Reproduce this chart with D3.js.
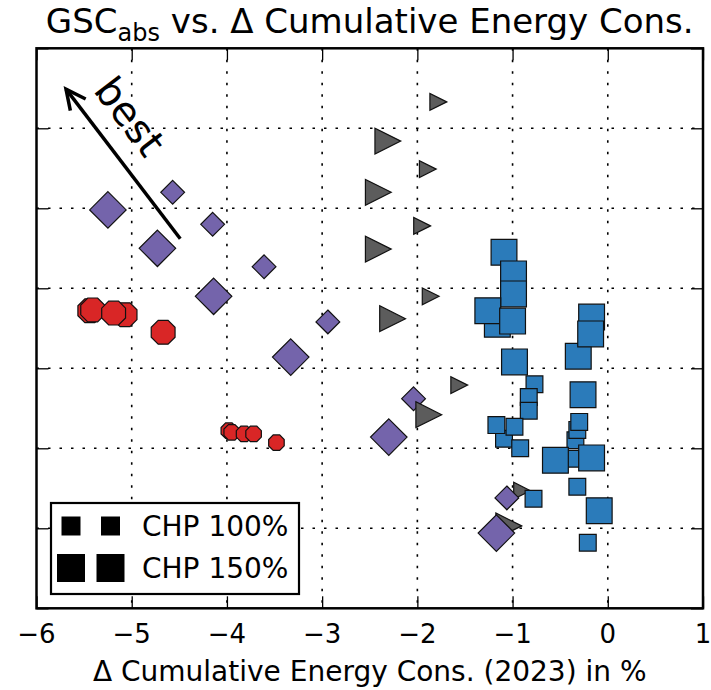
<!DOCTYPE html>
<html>
<head>
<meta charset="utf-8">
<script src="https://cdn.jsdelivr.net/npm/d3@7"></script>
<style>
  body { margin: 0; background: #fff; }
  svg { display: block; font-family: "DejaVu Sans", sans-serif; }
</style>
</head>
<body>
<div id="chart"></div>
<script>
// Axis ticks
const xTicks = [-6, -5, -4, -3, -2, -1, 0, 1];
const yTicks = [0, 1, 2, 3, 4, 5, 6, 7];

// Series: [deltaEnergy, gsc] — small = CHP 100%, large = CHP 150%
const redSmall = [[-3.98, 2.22], [-3.95, 2.20], [-3.82, 2.18], [-3.72, 2.18], [-3.48, 2.07]];
const redLarge = [[-5.07, 3.67], [-5.44, 3.72], [-5.41, 3.73], [-5.19, 3.69], [-4.67, 3.45]];
const graySmall = [[-1.78, 6.33], [-1.89, 5.49], [-1.95, 4.78], [-1.86, 3.90], [-1.56, 2.79], [-0.90, 1.47]];
const grayLarge = [[-2.31, 5.84], [-2.41, 5.20], [-2.41, 4.49], [-2.26, 3.62], [-1.88, 2.42], [-1.04, 1.03]];
const purpleSmall = [[-4.57, 5.20], [-4.15, 4.80], [-3.61, 4.27], [-2.94, 3.58], [-2.04, 2.62], [-1.06, 1.38]];
const purpleLarge = [[-5.25, 4.98], [-4.73, 4.50], [-4.14, 3.90], [-3.33, 3.14], [-2.30, 2.14], [-1.17, 0.94]];
const blueSmall = [[-0.77, 2.80], [-0.83, 2.64], [-0.83, 2.47], [-1.09, 2.12], [-1.17, 2.29], [-0.98, 2.27],
  [-0.92, 2.00], [-0.34, 1.87], [-0.34, 2.10], [-0.32, 2.23], [-0.30, 2.33], [-0.32, 1.52], [-0.78, 1.37], [-0.21, 0.82]];
const blueLarge = [[-0.31, 3.15], [-0.17, 3.64], [-0.18, 3.43], [-0.26, 2.67], [-1.09, 4.45], [-0.99, 4.18],
  [-0.99, 3.93], [-1.16, 3.55], [-1.26, 3.72], [-1.00, 3.59], [-0.98, 3.08], [-0.55, 1.85], [-0.17, 1.88], [-0.09, 1.22]];

// "best" annotation (data coords)
const arrowFrom = [-4.49, 4.62];
const arrowTo = [-5.69, 6.49];
const bestLabelAt = [-5.02, 6.15];

const legendLabels = ['CHP 100%', 'CHP 150%'];

const width = 711, height = 690;
const plot = { left: 36.5, right: 703, top: 48.3, bottom: 608.3 };
const sizeSmall = 18, sizeLarge = 27;

const x = d3.scaleLinear().domain([-6, 1]).range([plot.left, plot.right]);
const y = d3.scaleLinear().domain([0, 7]).range([plot.bottom, plot.top]);

const svg = d3.select('#chart').append('svg')
    .attr('width', width)
    .attr('height', height);

// Marker shapes, s = full marker size
const shapes = {
    square: s => `M${-s/2},${-s/2}H${s/2}V${s/2}H${-s/2}Z`,
    diamond: s => { const r = s * 0.7071; return `M0,${-r}L${r},0L0,${r}L${-r},0Z`; },
    triangle: s => `M${s/2},0L${-s/2},${-s/2}L${-s/2},${s/2}Z`,
    octagon: s => {
        const r = s / 2;
        const pts = d3.range(8).map(i => {
            const a = (22.5 + 45 * i) * Math.PI / 180;
            return [r * Math.cos(a), r * Math.sin(a)];
        });
        return 'M' + pts.map(p => p.join(',')).join('L') + 'Z';
    }
};

// Grid
const grid = svg.append('g')
    .attr('stroke', '#000')
    .attr('stroke-width', 1.6)
    .attr('stroke-dasharray', '2.5,9');
grid.selectAll('.vx').data(xTicks.slice(1, -1)).join('line')
    .attr('x1', d => x(d)).attr('x2', d => x(d))
    .attr('y1', plot.top).attr('y2', plot.bottom);
grid.selectAll('.hy').data(yTicks.slice(1, -1)).join('line')
    .attr('y1', d => y(d)).attr('y2', d => y(d))
    .attr('x1', plot.left).attr('x2', plot.right);

// Inward ticks on all sides
function styleAxis(g) {
    g.select('.domain').remove();
    g.selectAll('.tick line').attr('stroke', '#000').attr('stroke-width', 1.3);
}
svg.append('g')
    .attr('transform', `translate(0,${plot.bottom})`)
    .call(d3.axisBottom(x).tickValues(xTicks).tickSize(-12).tickPadding(0).tickFormat(d => ''))
    .call(styleAxis);
svg.append('g')
    .attr('transform', `translate(0,${plot.top})`)
    .call(d3.axisTop(x).tickValues(xTicks).tickSize(-12).tickFormat(d => ''))
    .call(styleAxis);
svg.append('g')
    .attr('transform', `translate(${plot.left},0)`)
    .call(d3.axisLeft(y).tickValues(yTicks).tickSize(-12).tickFormat(d => ''))
    .call(styleAxis);
svg.append('g')
    .attr('transform', `translate(${plot.right},0)`)
    .call(d3.axisRight(y).tickValues(yTicks).tickSize(-12).tickFormat(d => ''))
    .call(styleAxis);

// X tick labels
svg.append('g').selectAll('text').data(xTicks).join('text')
    .attr('x', d => x(d))
    .attr('y', 643)
    .attr('text-anchor', 'middle')
    .attr('font-size', 26)
    .text(d => d < 0 ? '\u2212' + Math.abs(d) : d);

// Markers: all CHP 100% first, then CHP 150%
const series = [
    { data: redSmall, shape: 'octagon', color: '#d92626', size: sizeSmall },
    { data: graySmall, shape: 'triangle', color: '#5c5c5c', size: sizeSmall },
    { data: purpleSmall, shape: 'diamond', color: '#7464ab', size: sizeSmall },
    { data: blueSmall, shape: 'square', color: '#2b7bba', size: sizeSmall },
    { data: redLarge, shape: 'octagon', color: '#d92626', size: sizeLarge },
    { data: grayLarge, shape: 'triangle', color: '#5c5c5c', size: sizeLarge },
    { data: purpleLarge, shape: 'diamond', color: '#7464ab', size: sizeLarge },
    { data: blueLarge, shape: 'square', color: '#2b7bba', size: sizeLarge }
];

const marks = svg.append('g');
series.forEach(s => {
    marks.append('g').selectAll('path').data(s.data).join('path')
        .attr('transform', d => `translate(${x(d[0])},${y(d[1])})`)
        .attr('d', shapes[s.shape](s.size - 1.2))
        .attr('fill', s.color)
        .attr('stroke', '#111')
        .attr('stroke-width', 1.2);
});

// "best" arrow
const ax0 = x(arrowFrom[0]), ay0 = y(arrowFrom[1]);
const ax1 = x(arrowTo[0]), ay1 = y(arrowTo[1]);
const ang = Math.atan2(ay0 - ay1, ax0 - ax1);
const headLen = 22, headAng = 26 * Math.PI / 180;
svg.append('line')
    .attr('x1', ax0).attr('y1', ay0).attr('x2', ax1).attr('y2', ay1)
    .attr('stroke', '#000').attr('stroke-width', 3.5);
svg.append('path')
    .attr('d', `M${ax1 + headLen * Math.cos(ang + headAng)},${ay1 + headLen * Math.sin(ang + headAng)}` +
        `L${ax1},${ay1}L${ax1 + headLen * Math.cos(ang - headAng)},${ay1 + headLen * Math.sin(ang - headAng)}`)
    .attr('fill', 'none').attr('stroke', '#000').attr('stroke-width', 3.5)
    .attr('stroke-linejoin', 'miter');
svg.append('text')
    .attr('transform', `translate(${x(bestLabelAt[0])},${y(bestLabelAt[1])}) rotate(${ang * 180 / Math.PI})`)
    .attr('text-anchor', 'middle')
    .attr('dominant-baseline', 'central')
    .attr('font-size', 40)
    .text('best');

// Frame
svg.append('rect')
    .attr('x', plot.left).attr('y', plot.top)
    .attr('width', plot.right - plot.left).attr('height', plot.bottom - plot.top)
    .attr('fill', 'none').attr('stroke', '#000').attr('stroke-width', 2.5);

// Legend
const legend = svg.append('g').attr('transform', 'translate(51,503)');
legend.append('rect')
    .attr('width', 248).attr('height', 91)
    .attr('fill', '#fff').attr('stroke', '#000').attr('stroke-width', 2.2);
[sizeSmall + 1, sizeLarge + 1].forEach((s, i) => {
    const cy = 23 + i * 42;
    [20, 59.5].forEach(cx => {
        legend.append('path')
            .attr('transform', `translate(${cx},${cy})`)
            .attr('d', shapes.square(s))
            .attr('fill', '#000');
    });
    legend.append('text')
        .attr('x', 91).attr('y', cy + 10)
        .attr('font-size', 28)
        .text(legendLabels[i]);
});

// Title and axis label
const title = svg.append('text')
    .attr('x', (plot.left + plot.right) / 2)
    .attr('y', 33)
    .attr('text-anchor', 'middle')
    .attr('font-size', 34);
title.append('tspan').text('GSC');
title.append('tspan').attr('font-size', 24).attr('dy', 8).text('abs');
title.append('tspan').attr('dy', -8).text(' vs. \u0394 Cumulative Energy Cons.');

svg.append('text')
    .attr('x', (plot.left + plot.right) / 2)
    .attr('y', 681)
    .attr('text-anchor', 'middle')
    .attr('font-size', 28)
    .text('\u0394 Cumulative Energy Cons. (2023) in %');
</script>
</body>
</html>
